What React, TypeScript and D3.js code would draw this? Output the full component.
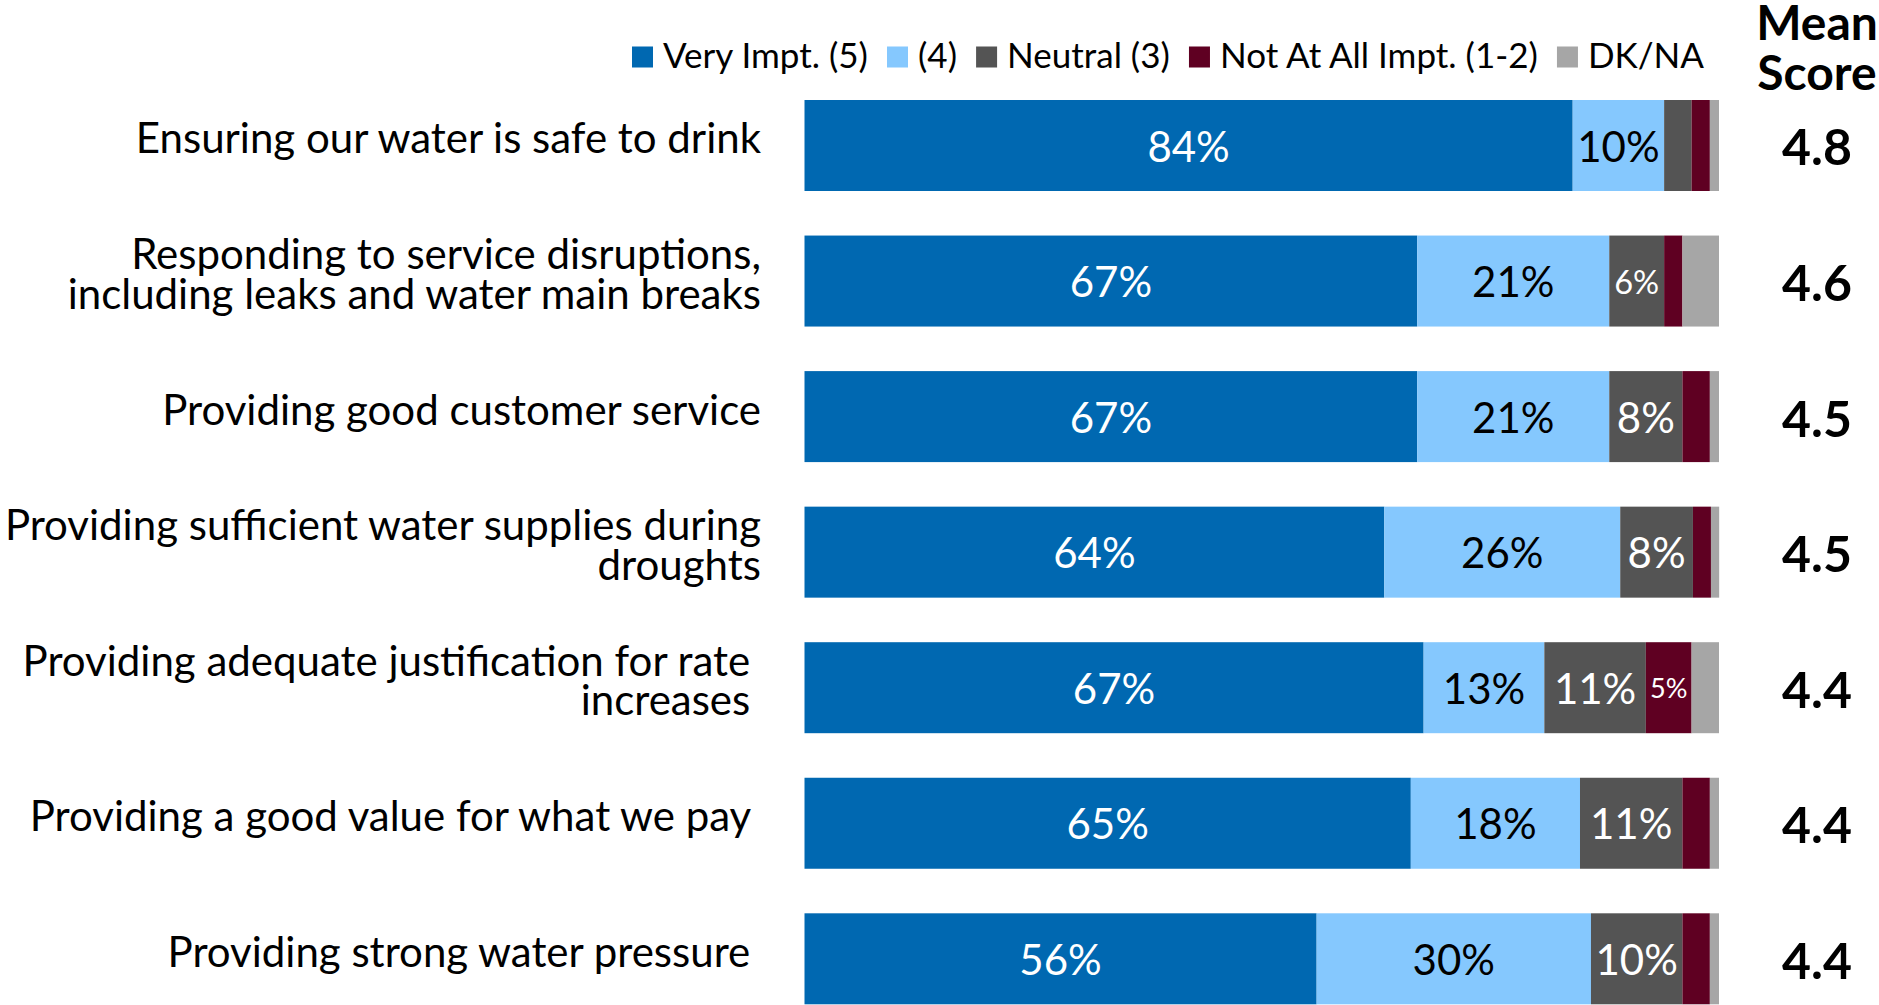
import React, { useEffect, useRef } from "react";
import * as d3 from "d3";

// ---- data ----
const categories: string[][] = [
  ["Ensuring our water is safe to drink"],
  ["Responding to service disruptions,", "including leaks and water main breaks"],
  ["Providing good customer service"],
  ["Providing sufficient water supplies during", "droughts"],
  ["Providing adequate justification for rate ", "increases "],
  ["Providing a good value for what we pay "],
  ["Providing strong water pressure "],
];

const seriesNames = ["Very Impt. (5)", "(4)", "Neutral (3)", "Not At All Impt. (1-2)", "DK/NA"];
const seriesColors = ["#0068B1", "#85C8FE", "#545454", "#5F0022", "#A6A6A6"];
const seriesTextColors = ["#FFFFFF", "#000000", "#FFFFFF", "#FFFFFF", "#000000"];

const veryImpt = [84, 67, 67, 63.4, 67.7, 66.3, 56];
const four = [10, 21, 21, 25.8, 13.2, 18.5, 30];
const neutral = [3, 6, 8, 7.95, 11.1, 11.2, 10];
const notAtAll = [2, 2, 3, 1.97, 5, 3, 3];
const dkna = [1, 4, 1, 0.9, 3, 1, 1];

const veryImptLabels = ["84%", "67%", "67%", "64%", "67%", "65%", "56%"];
const fourLabels = ["10%", "21%", "21%", "26%", "13%", "18%", "30%"];
const neutralLabels = ["", "6%", "8%", "8%", "11%", "11%", "10%"];
const notAtAllLabels = ["", "", "", "", "5%", "", ""];
const dknaLabels = ["", "", "", "", "", "", ""];

const meanScores = ["4.8", "4.6", "4.5", "4.5", "4.4", "4.4", "4.4"];
const meanTitle = ["Mean", "Score"];

const W = 1879;
const H = 1005;
const FONT = "Lato, 'Open Sans', sans-serif";
const CAP = 0.7165;

export default function App() {
  const ref = useRef<SVGSVGElement | null>(null);

  useEffect(() => {
    const svg = d3.select(ref.current);
    svg.selectAll("*").remove();

    const valueSeries = [veryImpt, four, neutral, notAtAll, dkna];
    const labelSeries = [veryImptLabels, fourLabels, neutralLabels, notAtAllLabels, dknaLabels];
    const keys = seriesNames;
    const rows = categories.map((_, i) => {
      const o: any = { idx: i };
      keys.forEach((k, j) => (o[k] = valueSeries[j][i]));
      return o;
    });
    const stacked = d3.stack<any>().keys(keys)(rows);

    const x = d3.scaleLinear().domain([0, 100]).range([804.5, 1719]);
    const y = d3
      .scaleBand<number>()
      .domain(categories.map((_, i) => i))
      .range([100, 1004.3])
      .paddingInner(0.3287)
      .paddingOuter(0);
    const bw = y.bandwidth();

    // bars
    const g = svg.append("g");
    stacked.forEach((layer, j) => {
      g.append("g")
        .attr("fill", seriesColors[j])
        .selectAll("rect")
        .data(layer)
        .join("rect")
        .attr("x", (d) => x(d[0]))
        .attr("width", (d) => x(d[1]) - x(d[0]))
        .attr("y", (d, i) => y(i)!)
        .attr("height", bw);
    });

    // segment labels
    const pctFs = 42;
    stacked.forEach((layer, j) => {
      layer.forEach((d, i) => {
        const txt = labelSeries[j][i];
        if (!txt) return;
        const segW = x(d[1]) - x(d[0]);
        const cx = (x(d[0]) + x(d[1])) / 2;
        const yc = y(i)! + bw / 2;
        const t = g
          .append("text")
          .attr("x", cx)
          .attr("text-anchor", "middle")
          .attr("fill", seriesTextColors[j])
          .attr("font-family", FONT)
          .attr("font-size", pctFs)
          .text(txt);
        let fs = pctFs;
        const tw = (t.node() as SVGTextElement).getComputedTextLength();
        if (tw > segW) {
          fs = (pctFs * (segW * 0.82)) / tw;
          t.attr("font-size", fs);
        }
        t.attr("y", yc + (CAP * fs) / 2 + 1);
      });
    });

    // category labels
    const catFs = 42;
    const lh = 39.5;
    categories.forEach((lines, i) => {
      const yc = y(i)! + bw / 2;
      const n = lines.length;
      const t = svg
        .append("text")
        .attr("text-anchor", "end")
        .attr("font-family", FONT)
        .attr("font-size", catFs)
        .attr("fill", "#000")
        .style("white-space", "pre");
      lines.forEach((ln, k) => {
        t.append("tspan")
          .attr("x", 761)
          .attr("y", yc + 8 + (k - (n - 1) / 2) * lh)
          .text(ln);
      });
    });

    // mean scores
    const meanFs = 50;
    const titleFs = 48;
    const meanX = 1817;
    meanScores.forEach((m, i) => {
      const yc = y(i)! + bw / 2;
      svg
        .append("text")
        .attr("x", meanX)
        .attr("y", yc + (CAP * meanFs) / 2 + 2)
        .attr("text-anchor", "middle")
        .attr("font-family", FONT)
        .attr("font-weight", 700)
        .attr("font-size", meanFs)
        .attr("fill", "#000")
        .text(m);
    });
    const titleBase = [40, 90];
    meanTitle.forEach((s, k) => {
      svg
        .append("text")
        .attr("x", meanX)
        .attr("y", titleBase[k])
        .attr("text-anchor", "middle")
        .attr("font-family", FONT)
        .attr("font-weight", 700)
        .attr("font-size", titleFs)
        .attr("fill", "#000")
        .text(s);
    });

    // legend: spans from legendLeft to legendRight, gaps distributed evenly
    const legFs = 35;
    const sq = 21;
    const legendLeft = 632;
    const legendRight = 1704;
    const lg = svg.append("g");
    const items = seriesNames.map((name, j) => {
      const t = lg
        .append("text")
        .attr("y", 68)
        .attr("font-family", FONT)
        .attr("font-size", legFs)
        .attr("fill", "#000")
        .text(name);
      const tw = (t.node() as SVGTextElement).getComputedTextLength();
      return { t, tw, j };
    });
    const used = d3.sum(items, (it) => sq + 10 + it.tw);
    const gap = (legendRight - legendLeft - used) / (items.length - 1);
    let lx = legendLeft;
    items.forEach((it) => {
      lg.append("rect")
        .attr("x", lx)
        .attr("y", 46.5)
        .attr("width", sq)
        .attr("height", sq)
        .attr("fill", seriesColors[it.j]);
      it.t.attr("x", lx + sq + 10);
      lx = lx + sq + 10 + it.tw + gap;
    });
  }, []);

  return (
    <svg
      ref={ref}
      width={W}
      height={H}
      style={{ position: "absolute", left: 0, top: 0, background: "#fff" }}
    />
  );
}
